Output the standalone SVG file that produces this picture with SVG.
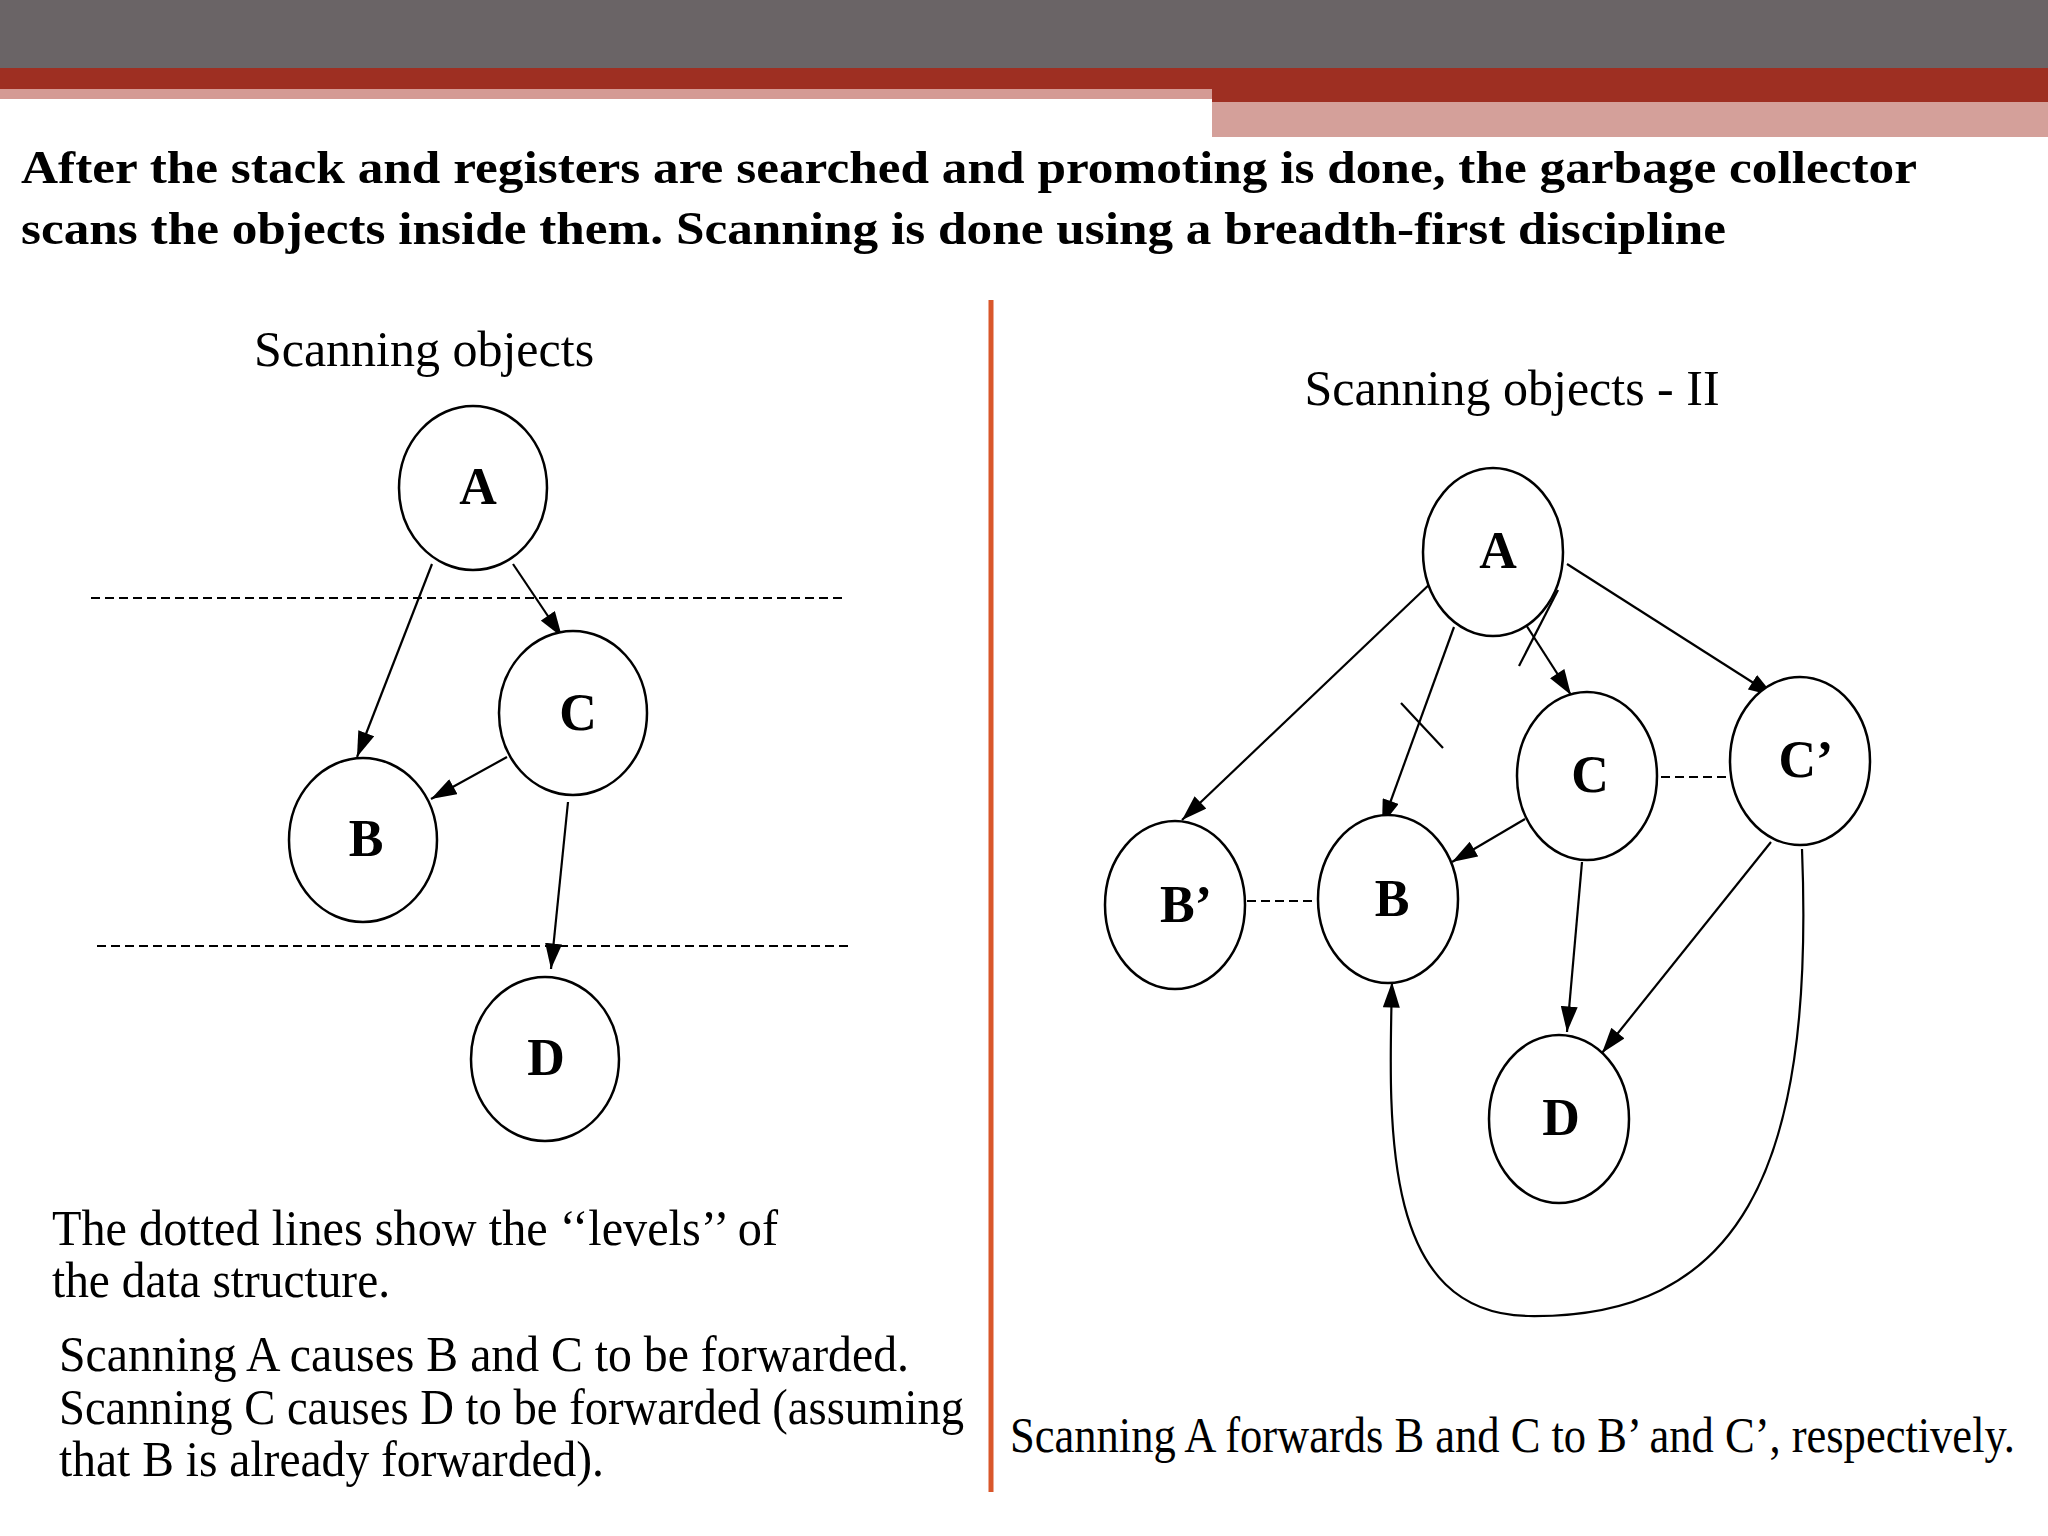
<svg xmlns="http://www.w3.org/2000/svg" width="2048" height="1536" viewBox="0 0 2048 1536">
<defs>
<marker id="ah" viewBox="0 0 24 16" refX="24" refY="8" markerWidth="26" markerHeight="17" orient="auto" markerUnits="userSpaceOnUse"><path d="M0,0 L24,8 L0,16 z" fill="#000"/></marker>
<style>
.n ellipse{fill:#fff;stroke:#000;stroke-width:2.5}
.n text{font-family:"Liberation Serif",serif;font-weight:bold;font-size:52px;text-anchor:middle}
.e line,.e path{stroke:#000;stroke-width:2.2;fill:none}
.a{marker-end:url(#ah)}
.d{stroke-dasharray:9 5}
.t{font-family:"Liberation Serif",serif;font-size:50px}
.h{font-family:"Liberation Serif",serif;font-weight:bold;font-size:46px}
</style>
</defs>
<rect width="2048" height="1536" fill="#fff"/>
<rect x="0" y="0" width="2048" height="68" fill="#6a6466"/>
<rect x="0" y="68" width="2048" height="21" fill="#9e2f22"/>
<rect x="0" y="89" width="1212" height="10" fill="#d49a94"/>
<rect x="1212" y="89" width="836" height="13" fill="#9e2f22"/>
<rect x="1212" y="102" width="836" height="35" fill="#d4a09a"/>
<text class="h" x="21" y="183" textLength="1896" lengthAdjust="spacingAndGlyphs">After the stack and registers are searched and promoting is done, the garbage collector</text>
<text class="h" x="21" y="244" textLength="1705" lengthAdjust="spacingAndGlyphs">scans the objects inside them. Scanning is done using a breadth-first discipline</text>
<line x1="991" y1="300" x2="991" y2="1492" stroke="#d9572b" stroke-width="5"/>
<text class="t" x="424" y="366" text-anchor="middle" font-size="48">Scanning objects</text>
<text class="t" x="1512" y="405" text-anchor="middle" font-size="48">Scanning objects - II</text>
<g id="connectors" class="e">
<line class="d" x1="91" y1="598" x2="846" y2="598"/>
<line class="d" x1="97" y1="946" x2="849" y2="946"/>
<line class="a" x1="432" y1="564" x2="357" y2="757"/>
<line class="a" x1="513" y1="564" x2="562" y2="637"/>
<line class="a" x1="507" y1="757" x2="431" y2="799"/>
<line class="a" x1="568" y1="802" x2="551" y2="969"/>
<line class="a" x1="1433" y1="581" x2="1182" y2="820"/>
<line class="a" x1="1454" y1="627" x2="1382" y2="825"/>
<line x1="1401" y1="703" x2="1443" y2="748"/>
<line class="a" x1="1519" y1="614" x2="1571" y2="695"/>
<line x1="1519" y1="666" x2="1558" y2="590"/>
<line class="a" x1="1567" y1="564" x2="1774" y2="696"/>
<line class="a" x1="1525" y1="819" x2="1452" y2="862"/>
<line class="a" x1="1582" y1="862" x2="1567" y2="1032"/>
<line class="a" x1="1771" y1="842" x2="1602" y2="1053"/>
<path class="a" d="M1802,849 C1815,1175 1737,1319 1528,1316 C1384,1313 1388,1136 1392,982"/>
<line class="d" x1="1247" y1="901" x2="1316" y2="901"/>
<line class="d" x1="1661" y1="777" x2="1729" y2="777"/>
</g>
<g id="nA" class="n"><ellipse cx="473" cy="488" rx="74" ry="82"/><text x="478" y="504">A</text></g>
<g id="nC" class="n"><ellipse cx="573" cy="713" rx="74" ry="82"/><text x="578" y="730">C</text></g>
<g id="nB" class="n"><ellipse cx="363" cy="840" rx="74" ry="82"/><text x="366" y="856">B</text></g>
<g id="nD" class="n"><ellipse cx="545" cy="1059" rx="74" ry="82"/><text x="546" y="1075">D</text></g>
<g id="rA" class="n"><ellipse cx="1493" cy="552" rx="70" ry="84"/><text x="1498" y="568">A</text></g>
<g id="rC" class="n"><ellipse cx="1587" cy="776" rx="70" ry="84"/><text x="1590" y="792">C</text></g>
<g id="rC2" class="n"><ellipse cx="1800" cy="761" rx="70" ry="84"/><text x="1806" y="777">C’</text></g>
<g id="rB2" class="n"><ellipse cx="1175" cy="905" rx="70" ry="84"/><text x="1186" y="922">B’</text></g>
<g id="rB" class="n"><ellipse cx="1388" cy="899" rx="70" ry="84"/><text x="1392" y="916">B</text></g>
<g id="rD" class="n"><ellipse cx="1559" cy="1119" rx="70" ry="84"/><text x="1561" y="1135">D</text></g>
<text class="t" x="52" y="1245" textLength="726" lengthAdjust="spacingAndGlyphs">The dotted lines show the ‘‘levels’’ of</text>
<text class="t" x="52" y="1297" textLength="338" lengthAdjust="spacingAndGlyphs">the data structure.</text>
<text class="t" x="59" y="1371" textLength="850" lengthAdjust="spacingAndGlyphs">Scanning A causes B and C to be forwarded.</text>
<text class="t" x="59" y="1424" textLength="905" lengthAdjust="spacingAndGlyphs">Scanning C causes D to be forwarded (assuming</text>
<text class="t" x="59" y="1476" textLength="545" lengthAdjust="spacingAndGlyphs">that B is already forwarded).</text>
<text class="t" x="1010" y="1452" textLength="1005" lengthAdjust="spacingAndGlyphs">Scanning A forwards B and C to B’ and C’, respectively.</text>
</svg>
